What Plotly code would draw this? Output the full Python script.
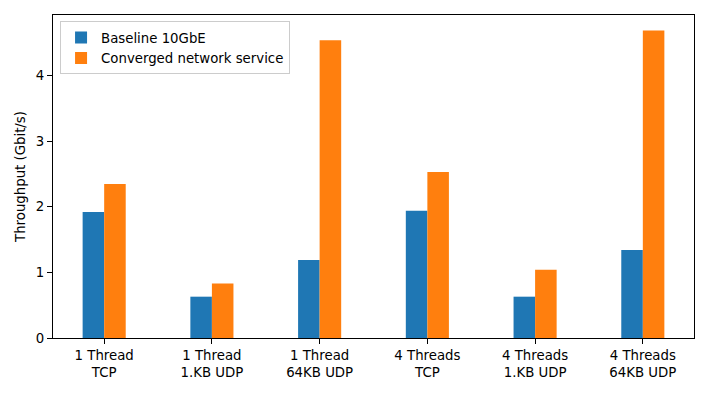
import plotly.graph_objects as go

# test cases on the x axis
categories = [
    "1 Thread<br>TCP",
    "1 Thread<br>1.KB UDP",
    "1 Thread<br>64KB UDP",
    "4 Threads<br>TCP",
    "4 Threads<br>1.KB UDP",
    "4 Threads<br>64KB UDP",
]

# throughput in Gbit/s
baseline = [1.92, 0.63, 1.19, 1.94, 0.63, 1.34]
converged = [2.35, 0.83, 4.54, 2.53, 1.04, 4.69]

series_names = ["Baseline 10GbE", "Converged network service"]
y_ticks = [0, 1, 2, 3, 4]

font = dict(family="DejaVu Sans", size=13.3, color="black")

fig = go.Figure()
fig.add_trace(go.Bar(x=categories, y=baseline, name=series_names[0],
                     marker=dict(color="#1f77b4", line=dict(width=0))))
fig.add_trace(go.Bar(x=categories, y=converged, name=series_names[1],
                     marker=dict(color="#ff7f0e", line=dict(width=0))))

# the page body keeps its default 8px margin, so the figure is a bit smaller
fig.update_layout(
    width=700,
    height=385,
    margin=dict(l=45, r=14, t=7, b=55),
    paper_bgcolor="white",
    plot_bgcolor="white",
    font=font,
    barmode="group",
    bargap=0.6,
    bargroupgap=0,
    showlegend=True,
    legend=dict(
        x=0.011, y=0.98, xanchor="left", yanchor="top",
        bgcolor="rgba(255,255,255,0.8)",
        bordercolor="#cccccc", borderwidth=1,
        font=font,
        itemwidth=30,
        tracegroupgap=0,
    ),
)

fig.update_xaxes(
    type="category",
    range=[-0.475, 5.475],
    showline=True, mirror=True, linecolor="black", linewidth=1,
    ticks="outside", ticklen=5, tickcolor="black",
    showgrid=False, zeroline=False,
    tickfont=font,
    automargin=False,
)
fig.update_yaxes(
    range=[0, 4.925],
    tickvals=y_ticks,
    showline=True, mirror=True, linecolor="black", linewidth=1,
    ticks="outside", ticklen=5, tickcolor="black",
    showgrid=False, zeroline=False,
    tickfont=font,
    title=dict(text="Throughput (Gbit/s)", font=font, standoff=7),
    automargin=False,
)

fig.write_html("out.html")
